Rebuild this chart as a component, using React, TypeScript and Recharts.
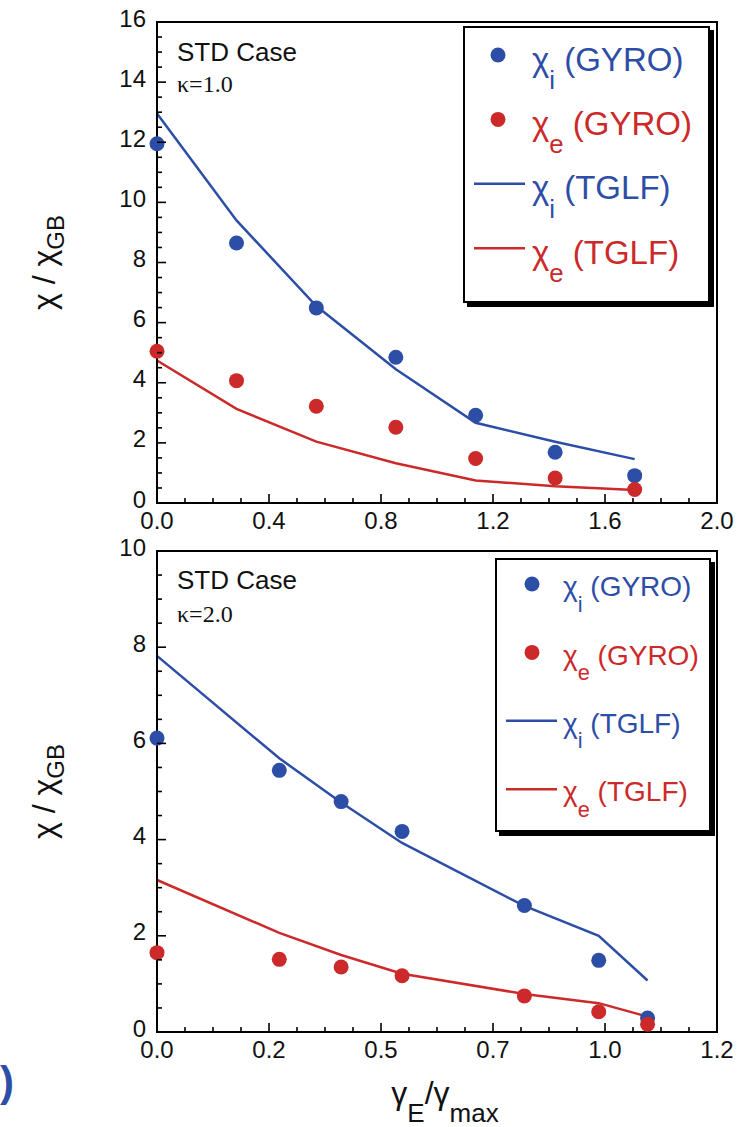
import React from 'react';
import { ComposedChart, Line, Scatter, XAxis, YAxis, Legend, ReferenceArea } from 'recharts';

const BLUE = '#2d4ea6';
const RED = '#cc2a2a';
const SANS = '"Liberation Sans", Arial, Helvetica, sans-serif';
const SERIF = '"Liberation Serif", "Times New Roman", serif';

// kappa = 1.0 scan
const gammaK1 = [0, 0.284, 0.569, 0.853, 1.138, 1.422, 1.706];
const chiIGyroK1 = [11.95, 8.65, 6.49, 4.85, 2.92, 1.69, 0.91];
const chiEGyroK1 = [5.05, 4.07, 3.22, 2.52, 1.48, 0.83, 0.45];
const chiITglfK1 = [12.96, 9.4, 6.55, 4.45, 2.67, 2.04, 1.46];
const chiETglfK1 = [4.74, 3.13, 2.04, 1.32, 0.75, 0.56, 0.43];

// kappa = 2.0 scan
const gammaK2 = [0, 0.273, 0.411, 0.547, 0.82, 0.986, 1.095];
const chiIGyroK2 = [6.11, 5.44, 4.79, 4.17, 2.63, 1.49, 0.29];
const chiEGyroK2 = [1.65, 1.51, 1.35, 1.17, 0.75, 0.42, 0.16];
const chiITglfK2 = [7.82, 5.69, 4.77, 3.93, 2.62, 2.0, 1.07];
const chiETglfK2 = [3.16, 2.06, 1.6, 1.21, 0.79, 0.6, 0.32];

// major tick values
const xMajorK1 = [0, 0.4, 0.8, 1.2, 1.6, 2.0];
const yMajorK1 = [0, 2, 4, 6, 8, 10, 12, 14, 16];
const xMajorK2 = [0, 0.25, 0.5, 0.75, 1.0, 1.25];
const yMajorK2 = [0, 2, 4, 6, 8, 10];

// legend entries: species subscript and code name
const legendRows = [
  { color: BLUE, kind: 'dot', sub: 'i', code: 'GYRO' },
  { color: RED, kind: 'dot', sub: 'e', code: 'GYRO' },
  { color: BLUE, kind: 'line', sub: 'i', code: 'TGLF' },
  { color: RED, kind: 'line', sub: 'e', code: 'TGLF' },
];

type Pt = { x: number; y: number };
const zip = (xs: number[], ys: number[]): Pt[] => xs.map((x, i) => ({ x, y: ys[i] }));

// fill in minor ticks between the majors
const withMinor = (majors: number[], parts: number) => {
  const out: number[] = [];
  for (let i = 0; i < majors.length - 1; i++) {
    const step = (majors[i + 1] - majors[i]) / parts;
    for (let k = 0; k < parts; k++) out.push(majors[i] + k * step);
  }
  out.push(majors[majors.length - 1]);
  return out;
};

const fmtFixed = (v: number) => v.toFixed(1);
const fmtTrunc = (v: number) => (Math.floor(v * 10 + 1e-6) / 10).toFixed(1);
const fmtInt = (v: number) => String(Math.round(v));

// inward pointing frame ticks, labels only on the outer bottom/left sides
const FrameTick = (props: any) => {
  const { x, y, payload, side, majors, fmt } = props;
  const v = payload.value;
  const major = majors.some((m: number) => Math.abs(m - v) < 1e-6);
  const len = major ? 9 : 5;
  let x2 = x;
  let y2 = y;
  if (side === 'bottom') y2 = y - len;
  if (side === 'top') y2 = y + len;
  if (side === 'left') x2 = x + len;
  if (side === 'right') x2 = x - len;
  return (
    <g>
      <line x1={x} y1={y} x2={x2} y2={y2} stroke="#000" strokeWidth={1.6} />
      {major && fmt && side === 'bottom' && (
        <text x={x} y={y + 26} textAnchor="middle" fontSize={24} fontFamily={SANS} fill="#111">
          {fmt(v)}
        </text>
      )}
      {major && fmt && side === 'left' && (
        <text x={x - 11} y={y + 4.5} textAnchor="end" fontSize={24} fontFamily={SANS} fill="#111">
          {fmt(v)}
        </text>
      )}
    </g>
  );
};

const Dot = (p: any) => <circle cx={p.cx} cy={p.cy} r={7.5} fill={p.fill} />;

type LegendLayout = {
  left: number; top: number; width: number; height: number;
  fontSize: number; markerX: number; firstY: number; pitch: number;
  textX: number; textDy: number; lineX0: number; lineX1: number;
};

const LegendBox = ({ lay }: { lay: LegendLayout }) => {
  const { width: w, height: h, fontSize: fs } = lay;
  return (
    <svg width={w} height={h} style={{ display: 'block' }}>
      <rect x={4} y={4} width={w - 4} height={h - 4} fill="#000" />
      <rect x={1} y={1} width={w - 6} height={h - 6} fill="#fff" stroke="#000" strokeWidth={2} />
      {legendRows.map((r, i) => {
        const cy = lay.firstY + i * lay.pitch;
        const base = cy + lay.textDy + 0.26 * fs;
        return (
          <g key={i}>
            {r.kind === 'dot' ? (
              <circle cx={lay.markerX} cy={cy} r={7.5} fill={r.color} />
            ) : (
              <line x1={lay.lineX0} y1={cy} x2={lay.lineX1} y2={cy} stroke={r.color} strokeWidth={2.5} />
            )}
            <text x={lay.textX} y={base} fontSize={fs} fontFamily={SANS} fill={r.color}>
              χ
              <tspan dy={0.55 * fs} fontSize={0.78 * fs}>{r.sub}</tspan>
              <tspan dy={-0.55 * fs}>{' (' + r.code + ')'}</tspan>
            </text>
          </g>
        );
      })}
    </svg>
  );
};

type PanelProps = {
  gamma: number[];
  iGyro: number[]; eGyro: number[]; iTglf: number[]; eTglf: number[];
  xMajor: number[]; yMajor: number[]; xFmt: (v: number) => string;
  height: number; top: number; xAxisHeight: number; legend: LegendLayout;
};

const Panel = (p: PanelProps) => {
  const xTicks = withMinor(p.xMajor, 4);
  const yTicks = withMinor(p.yMajor, 4);
  const xDomain = [p.xMajor[0], p.xMajor[p.xMajor.length - 1]];
  const yDomain = [p.yMajor[0], p.yMajor[p.yMajor.length - 1]];
  const axisLine = { stroke: '#000', strokeWidth: 2 };
  return (
    <ComposedChart width={740} height={p.height} margin={{ top: p.top, right: 23, bottom: 0, left: 0 }}>
      <XAxis
        xAxisId="b" dataKey="x" type="number" domain={xDomain} ticks={xTicks}
        interval={0} height={p.xAxisHeight} tickSize={0} tickMargin={0} stroke="#000" axisLine={axisLine} tickLine={false}
        tick={(t: any) => <FrameTick {...t} side="bottom" majors={p.xMajor} fmt={p.xFmt} />}
      />
      <XAxis
        xAxisId="t" orientation="top" type="number" domain={xDomain} allowDataOverflow ticks={xTicks}
        interval={0} height={0} tickSize={0} tickMargin={0} stroke="#000" axisLine={axisLine} tickLine={false}
        tick={(t: any) => <FrameTick {...t} side="top" majors={p.xMajor} />}
      />
      <YAxis
        yAxisId="l" dataKey="y" type="number" domain={yDomain} ticks={yTicks}
        interval={0} width={157} tickSize={0} tickMargin={0} stroke="#000" axisLine={axisLine} tickLine={false}
        tick={(t: any) => <FrameTick {...t} side="left" majors={p.yMajor} fmt={fmtInt} />}
      />
      <YAxis
        yAxisId="r" orientation="right" type="number" domain={yDomain} allowDataOverflow ticks={yTicks}
        interval={0} width={0} tickSize={0} tickMargin={0} stroke="#000" axisLine={axisLine} tickLine={false}
        tick={(t: any) => <FrameTick {...t} side="right" majors={p.yMajor} />}
      />
      {/* plot frame */}
      <ReferenceArea
        xAxisId="b" yAxisId="l" x1={xDomain[0]} x2={xDomain[1]} y1={yDomain[0]} y2={yDomain[1]}
        fill="none" fillOpacity={0} stroke="#000" strokeWidth={2} strokeOpacity={1} ifOverflow="visible"
      />
      <Line
        xAxisId="b" yAxisId="l" data={zip(p.gamma, p.iTglf)} dataKey="y" type="linear"
        stroke={BLUE} strokeWidth={2.5} dot={false} activeDot={false} isAnimationActive={false}
      />
      <Line
        xAxisId="b" yAxisId="l" data={zip(p.gamma, p.eTglf)} dataKey="y" type="linear"
        stroke={RED} strokeWidth={2.5} dot={false} activeDot={false} isAnimationActive={false}
      />
      <Scatter
        xAxisId="b" yAxisId="l" data={zip(p.gamma, p.iGyro)} fill={BLUE} shape={Dot} isAnimationActive={false}
      />
      <Scatter
        xAxisId="b" yAxisId="l" data={zip(p.gamma, p.eGyro)} fill={RED} shape={Dot} isAnimationActive={false}
      />
      <Legend
        layout="horizontal" verticalAlign="middle" align="center"
        wrapperStyle={{ left: p.legend.left, top: p.legend.top, width: p.legend.width, height: p.legend.height }}
        content={() => <LegendBox lay={p.legend} />}
      />
    </ComposedChart>
  );
};

const topLegend: LegendLayout = {
  left: 463, top: 26, width: 251, height: 281, fontSize: 33,
  markerX: 35, firstY: 29, pitch: 64.4, textX: 69, textDy: 7, lineX0: 11, lineX1: 62,
};

const bottomLegend: LegendLayout = {
  left: 495, top: 28, width: 220, height: 278, fontSize: 28,
  markerX: 37, firstY: 26, pitch: 68.4, textX: 68, textDy: 5, lineX0: 11, lineX1: 62,
};

const YTitle = ({ cy }: { cy: number }) => (
  <text x={55} y={cy} transform={`rotate(-90 55 ${cy})`} textAnchor="middle" fontSize={32} fontFamily={SANS} fill="#111">
    χ / χ
    <tspan dy={9} fontSize={24}>GB</tspan>
  </text>
);

export default function App() {
  return (
    <div style={{ position: 'absolute', left: 0, top: 0, width: 740, height: 1127, background: '#fff', overflow: 'hidden' }}>
      <div style={{ position: 'absolute', left: 0, top: 0 }}>
        <Panel
          gamma={gammaK1} iGyro={chiIGyroK1} eGyro={chiEGyroK1} iTglf={chiITglfK1} eTglf={chiETglfK1}
          xMajor={xMajorK1} yMajor={yMajorK1} xFmt={fmtFixed}
          height={542} top={22} xAxisHeight={39} legend={topLegend}
        />
      </div>
      <div style={{ position: 'absolute', left: 0, top: 530 }}>
        <Panel
          gamma={gammaK2} iGyro={chiIGyroK2} eGyro={chiEGyroK2} iTglf={chiITglfK2} eTglf={chiETglfK2}
          xMajor={xMajorK2} yMajor={yMajorK2} xFmt={fmtTrunc}
          height={597} top={21} xAxisHeight={95} legend={bottomLegend}
        />
      </div>
      <svg width={740} height={1127} style={{ position: 'absolute', left: 0, top: 0, pointerEvents: 'none' }}>
        <text x={177} y={60.5} fontSize={26} fontFamily={SANS} fill="#111">STD Case</text>
        <text x={177} y={92} fontSize={24} fontFamily={SERIF} fill="#111">κ=1.0</text>
        <text x={177} y={589} fontSize={26} fontFamily={SANS} fill="#111">STD Case</text>
        <text x={177} y={621.5} fontSize={24} fontFamily={SERIF} fill="#111">κ=2.0</text>
        <YTitle cy={262.5} />
        <YTitle cy={791.5} />
        <text x={445} y={1104} textAnchor="middle" fontSize={32} fontFamily={SANS} fill="#111">
          γ
          <tspan dy={18} fontSize={26}>E</tspan>
          <tspan dy={-18}>/γ</tspan>
          <tspan dy={18} fontSize={26}>max</tspan>
        </text>
        <text x={0} y={1096} fontSize={42} fontWeight={600} fontFamily={SANS} fill={BLUE}>)</text>
      </svg>
    </div>
  );
}
